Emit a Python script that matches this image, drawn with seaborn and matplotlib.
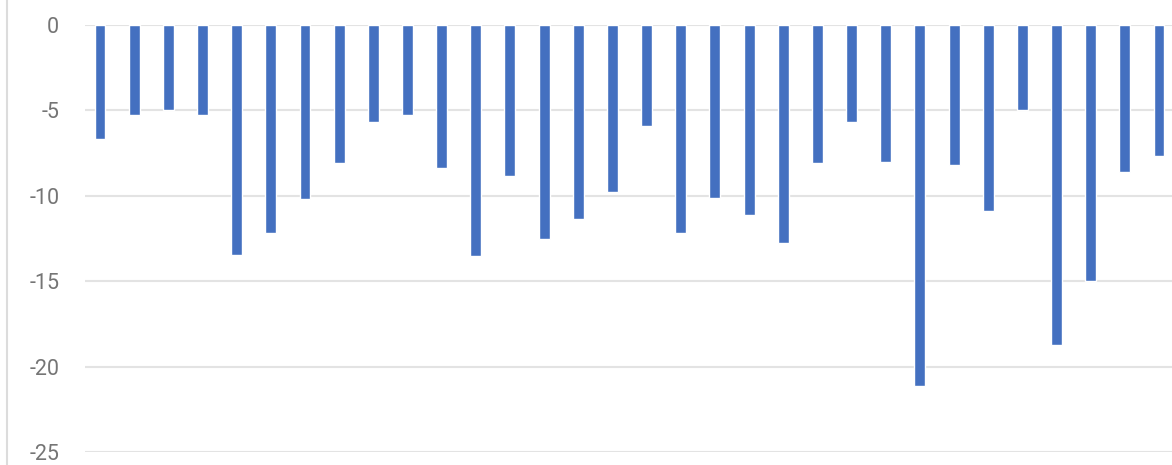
import matplotlib
matplotlib.use("Agg")
import matplotlib.pyplot as plt
import seaborn as sns
import pandas as pd
from matplotlib.lines import Line2D

# Werte
categories = list(range(1, 33))
values = [-6.7, -5.25, -5.0, -5.25, -13.45, -12.15, -10.2, -8.1, -5.65, -5.25,
          -8.4, -13.55, -8.85, -12.55, -11.35, -9.75, -5.9, -12.15, -10.15, -11.15,
          -12.75, -8.1, -5.65, -8.05, -21.15, -8.2, -10.9, -5.0, -18.75, -15.0,
          -8.6, -7.65]
y_ticks = [0, -5, -10, -15, -20, -25]

df = pd.DataFrame({'kategorie': categories, 'wert': values})

sns.set_style("white")
plt.rcParams['font.family'] = ['Roboto', 'DejaVu Sans']

fig = plt.figure(figsize=(11.72, 4.65), dpi=100)
ax = fig.add_axes([85 / 1172, 13 / 465, 1 - 85 / 1172, (452 - 25) / 465])

sns.barplot(data=df, x='kategorie', y='wert', color='#4470C0',
            saturation=1, width=0.32, ax=ax, zorder=3)

ax.set_ylim(-25, 0)
ax.set_xlim(-0.44, len(categories) - 1 + 0.38)
ax.set_yticks(y_ticks)
ax.set_yticklabels([str(t) for t in y_ticks])
ax.set_xticks([])
ax.set_xlabel('')
ax.set_ylabel('')

for t in y_ticks:
    ax.axhline(t, color='#e3e3e3', linewidth=1.5, zorder=1)

for s in ax.spines.values():
    s.set_visible(False)
ax.tick_params(axis='y', length=0, pad=18.5, labelsize=15.5, labelcolor='#757575')

# linker Rahmenstrich
fig.add_artist(Line2D([7 / 1172, 7 / 1172], [0, 1], color='#dcdcdc', linewidth=1.5))

fig.savefig('out.png', dpi=100)
